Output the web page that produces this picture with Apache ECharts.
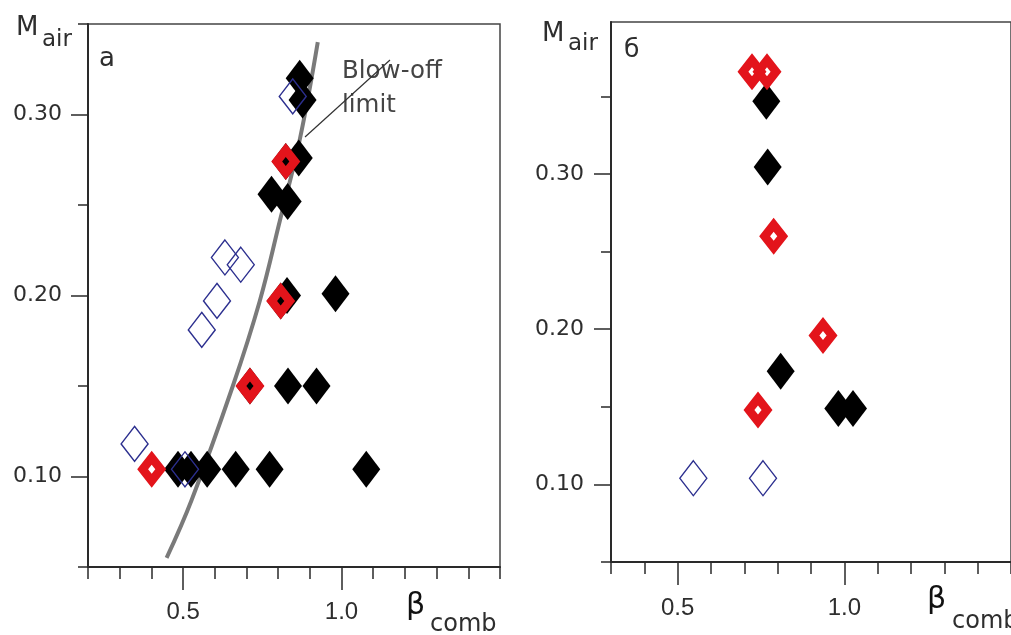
<!DOCTYPE html>
<html>
<head>
<meta charset="utf-8">
<script src="https://cdn.jsdelivr.net/npm/echarts@6/dist/echarts.min.js"></script>
<style>
  html, body { margin: 0; padding: 0; background: #fff; }
  #chart { width: 1011px; height: 635px; }
</style>
</head>
<body>
<div id="chart"></div>
<script>
// ---- Panel а: air mass fraction vs β_comb ----
const aFilled = [
  [0.868, 0.320], [0.877, 0.308], [0.865, 0.276], [0.824, 0.274],
  [0.779, 0.256], [0.830, 0.252], [0.828, 0.200], [0.808, 0.197],
  [0.981, 0.201], [0.711, 0.150], [0.831, 0.150], [0.921, 0.150],
  [0.484, 0.104], [0.525, 0.104], [0.576, 0.104], [0.666, 0.104],
  [0.773, 0.104], [1.078, 0.104]
];
const aOpen = [
  [0.846, 0.310], [0.632, 0.221], [0.682, 0.217], [0.607, 0.197],
  [0.559, 0.181], [0.347, 0.118], [0.506, 0.104]
];
const aRed = [
  [0.824, 0.274], [0.808, 0.197], [0.711, 0.150], [0.401, 0.104]
];
// blow-off limit curve
const blowOffLimit = [
  [0.448, 0.055], [0.527, 0.087], [0.657, 0.150], [0.742, 0.197],
  [0.805, 0.241], [0.868, 0.286], [0.925, 0.340]
];

// ---- Panel б ----
const bFilled = [
  [0.766, 0.347], [0.770, 0.3045], [0.809, 0.173], [0.982, 0.149], [1.026, 0.149]
];
const bOpen = [
  [0.547, 0.104], [0.756, 0.104]
];
const bRed = [
  [0.723, 0.366], [0.768, 0.366], [0.788, 0.260], [0.936, 0.196], [0.741, 0.148]
];

// ---- ticks ----
const xMajorTicks = [0.5, 1.0];
const xMinorTicksA = [0.2, 0.3, 0.4, 0.6, 0.7, 0.8, 0.9, 1.1, 1.2, 1.3, 1.4, 1.5];
const xMinorTicksB = [0.3, 0.4, 0.6, 0.7, 0.8, 0.9, 1.1, 1.2, 1.3, 1.4, 1.5];
const yMajorTicks = [0.10, 0.20, 0.30];
const yMinorTicks = [0.05, 0.15, 0.25, 0.35];

const FONT = '"DejaVu Sans", Verdana, sans-serif';
const NUM_FONT = '"Liberation Sans", Arial, sans-serif';
const AXIS_COLOR = '#2a2a2a';
const TEXT_COLOR = '#2e2e2e';

function xAxisPair(gridIndex, min, max, minors, labelMargin) {
  return [
    {
      type: 'value', gridIndex, min, max, position: 'bottom',
      axisLine: { show: true, onZero: false, lineStyle: { color: AXIS_COLOR, width: 2 } },
      axisTick: { show: true, customValues: xMajorTicks, length: 23, lineStyle: { color: AXIS_COLOR, width: 1.5 } },
      axisLabel: {
        show: true, customValues: xMajorTicks, margin: labelMargin,
        formatter: v => v.toFixed(1),
        fontFamily: NUM_FONT, fontSize: 24, color: TEXT_COLOR
      },
      splitLine: { show: false }
    },
    {
      type: 'value', gridIndex, min, max, position: 'bottom',
      axisLine: { show: false, onZero: false },
      axisTick: { show: true, customValues: minors, length: 12, lineStyle: { color: AXIS_COLOR, width: 1.5 } },
      axisLabel: { show: false },
      splitLine: { show: false }
    }
  ];
}

function yAxisPair(gridIndex, min, max, labelMargin) {
  return [
    {
      type: 'value', gridIndex, min, max, position: 'left',
      axisLine: { show: true, lineStyle: { color: AXIS_COLOR, width: 2 } },
      axisTick: { show: true, customValues: yMajorTicks, length: 17, lineStyle: { color: AXIS_COLOR, width: 1.5 } },
      axisLabel: {
        show: true, customValues: yMajorTicks, margin: labelMargin,
        formatter: v => v.toFixed(2),
        fontFamily: FONT, fontSize: 22, color: TEXT_COLOR
      },
      splitLine: { show: false }
    },
    {
      type: 'value', gridIndex, min, max, position: 'left',
      axisLine: { show: false },
      axisTick: { show: true, customValues: yMinorTicks.filter(v => v >= min && v <= max), length: 10, lineStyle: { color: AXIS_COLOR, width: 1.5 } },
      axisLabel: { show: false },
      splitLine: { show: false }
    }
  ];
}

// red marker: thick diamond outline with a small hole in the middle
const RED_DIAMOND = 'path://M0,0 L14.5,18.5 L0,37 L-14.5,18.5 Z M0,14 L-3.6,18.5 L0,23 L3.6,18.5 Z';

function markerSeries(gridIdx, filled, open, red) {
  const xi = gridIdx * 2, yi = gridIdx * 2;
  return [
    {
      type: 'scatter', xAxisIndex: xi, yAxisIndex: yi, data: filled, z: 3,
      symbol: 'diamond', symbolSize: [28, 37],
      itemStyle: { color: '#000', opacity: 1 }, silent: true
    },
    {
      type: 'scatter', xAxisIndex: xi, yAxisIndex: yi, data: open, z: 4,
      symbol: 'diamond', symbolSize: [27, 35],
      itemStyle: { color: 'rgba(0,0,0,0)', borderColor: '#2c2f8f', borderWidth: 1.4, opacity: 1 }, silent: true
    },
    {
      type: 'scatter', xAxisIndex: xi, yAxisIndex: yi, data: red, z: 5,
      symbol: RED_DIAMOND, symbolSize: [29, 37],
      itemStyle: { color: '#e3141b', opacity: 1 }, silent: true
    }
  ];
}

const chart = echarts.init(document.getElementById('chart'), null, { renderer: 'canvas' });

chart.setOption({
  backgroundColor: '#fff',
  animation: false,
  grid: [
    { left: 88, top: 24, width: 412, height: 543, show: true, borderColor: '#444', borderWidth: 1.5, backgroundColor: 'transparent' },
    { left: 611, top: 22, width: 412, height: 540, show: true, borderColor: '#444', borderWidth: 1.5, backgroundColor: 'transparent' }
  ],
  xAxis: [
    ...xAxisPair(0, 0.2, 1.5, xMinorTicksA, 33),
    ...xAxisPair(1, 0.3, 1.5, xMinorTicksB, 34)
  ],
  yAxis: [
    ...yAxisPair(0, 0.05, 0.35, 26),
    ...yAxisPair(1, 0.05, 0.398, 27)
  ],
  series: [
    {
      type: 'line', xAxisIndex: 0, yAxisIndex: 0, data: blowOffLimit, z: 2,
      smooth: 0.4, showSymbol: false, symbol: 'none', silent: true,
      lineStyle: { color: '#7a7a7a', width: 4 }
    },
    ...markerSeries(0, aFilled, aOpen, aRed),
    ...markerSeries(1, bFilled, bOpen, bRed)
  ],
  graphic: [
    // axis titles, panel а
    { type: 'text', left: 16, top: 15, style: { text: 'M', font: '26px ' + FONT, fill: TEXT_COLOR } },
    { type: 'text', left: 42, top: 29, style: { text: 'air', font: '23px ' + FONT, fill: TEXT_COLOR } },
    { type: 'text', left: 99, top: 46, style: { text: 'а', font: '26px ' + FONT, fill: TEXT_COLOR } },
    { type: 'text', left: 406, top: 591, style: { text: 'β', font: '30px ' + FONT, fill: '#111' } },
    { type: 'text', left: 430, top: 613, style: { text: 'comb', font: '24px ' + FONT, fill: TEXT_COLOR } },
    // blow-off annotation
    { type: 'text', left: 342, top: 59, style: { text: 'Blow-off', font: '24.5px ' + FONT, fill: '#444' } },
    { type: 'text', left: 342, top: 93, style: { text: 'limit', font: '24.5px ' + FONT, fill: '#444' } },
    { type: 'line', shape: { x1: 390, y1: 60, x2: 305, y2: 137 }, style: { stroke: '#333', lineWidth: 1.2 } },
    // axis titles, panel б
    { type: 'text', left: 542, top: 21, style: { text: 'M', font: '26px ' + FONT, fill: TEXT_COLOR } },
    { type: 'text', left: 568, top: 33, style: { text: 'air', font: '23px ' + FONT, fill: TEXT_COLOR } },
    { type: 'text', left: 624, top: 38, style: { text: 'б', font: '25px ' + FONT, fill: TEXT_COLOR } },
    { type: 'text', left: 927, top: 585, style: { text: 'β', font: '30px ' + FONT, fill: '#111' } },
    { type: 'text', left: 952, top: 610, style: { text: 'comb', font: '24px ' + FONT, fill: TEXT_COLOR } }
  ]
});
</script>
</body>
</html>
